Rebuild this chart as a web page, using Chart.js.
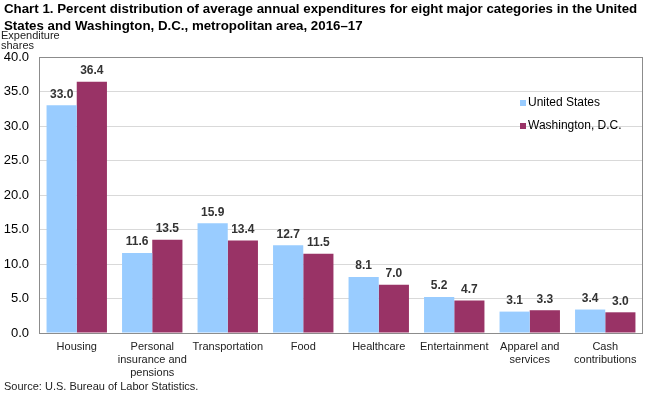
<!DOCTYPE html>
<html><head><meta charset="utf-8">
<script src="https://cdn.jsdelivr.net/npm/chart.js@4.4.0/dist/chart.umd.min.js"></script>
<style>html,body{margin:0;padding:0;background:#fff}#wrap{width:650px;height:393px;position:relative}</style>
</head><body><div id="wrap"><canvas id="c" width="650" height="393"></canvas></div>
<script>
const categories = [["Housing"],["Personal","insurance and","pensions"],["Transportation"],["Food"],["Healthcare"],["Entertainment"],["Apparel and","services"],["Cash","contributions"]];
const unitedStates = [33.0, 11.6, 15.9, 12.7, 8.1, 5.2, 3.1, 3.4];
const washingtonDC = [36.4, 13.5, 13.4, 11.5, 7.0, 4.7, 3.3, 3.0];
const seriesNames = ["United States", "Washington, D.C."];
const titleLines = ["Chart 1. Percent distribution of average annual expenditures for eight major categories in the United","States and Washington, D.C., metropolitan area, 2016\u201317"];
const yAxisTitle = ["Expenditure","shares"];
const sourceText = "Source: U.S. Bureau of Labor Statistics.";
const colors = ["#99CCFF", "#993366"];
const FONT = "'Liberation Sans', Arial, sans-serif";

const decor = {
  id: 'decor',
  afterDatasetsDraw(chart) {
    const ctx = chart.ctx, a = chart.chartArea;
    ctx.save();
    // border
    ctx.strokeStyle = '#8c8c8c'; ctx.lineWidth = 1;
    ctx.strokeRect(Math.round(a.left)+0.5, Math.round(a.top)+0.5, Math.round(a.right-a.left)-1, Math.round(a.bottom-a.top));
    // value labels
    ctx.font = 'bold 12px ' + FONT; ctx.fillStyle = '#333'; ctx.textAlign = 'center'; ctx.textBaseline = 'bottom';
    chart.data.datasets.forEach((ds, i) => {
      chart.getDatasetMeta(i).data.forEach((bar, j) => {
        ctx.fillText(ds.data[j].toFixed(1), bar.x, bar.y - 5);
      });
    });
    // title
    ctx.fillStyle = '#000'; ctx.textAlign = 'left'; ctx.textBaseline = 'middle';
    ctx.font = 'bold 13.3px ' + FONT;
    ctx.fillText(titleLines[0], 4, 9);
    ctx.fillText(titleLines[1], 4, 26);
    ctx.font = '11px ' + FONT; ctx.fillStyle = '#222';
    ctx.fillText(yAxisTitle[0], 1, 36);
    ctx.fillText(yAxisTitle[1], 1, 46);
    ctx.fillText(sourceText, 4, 387);
    // legend
    ctx.font = '12px ' + FONT;
    seriesNames.forEach((n, i) => {
      const y = 103 + i * 23;
      ctx.fillStyle = colors[i];
      ctx.fillRect(520, y - 3, 6, 6);
      ctx.fillStyle = '#000';
      ctx.fillText(n, 528, y);
    });
    ctx.restore();
  }
};

new Chart(document.getElementById('c'), {
  type: 'bar',
  data: {
    labels: categories,
    datasets: [
      { label: seriesNames[0], data: unitedStates, backgroundColor: colors[0], categoryPercentage: 0.8, barPercentage: 1.0 },
      { label: seriesNames[1], data: washingtonDC, backgroundColor: colors[1], categoryPercentage: 0.8, barPercentage: 1.0 }
    ]
  },
  options: {
    responsive: false, animation: false,
    layout: { padding: { top: 57, right: 7, bottom: 0, left: 0 } },
    plugins: { legend: { display: false }, title: { display: false }, tooltip: { enabled: false } },
    scales: {
      x: {
        grid: { display: false }, border: { display: false },
        ticks: { color: '#222', font: { size: 11, family: FONT, lineHeight: 1.2 }, padding: -1, maxRotation: 0, autoSkip: false },
        afterFit(s) { s.height = 60; }
      },
      y: {
        min: 0, max: 40,
        grid: { color: '#d9d9d9', drawTicks: false }, border: { display: false },
        ticks: { stepSize: 5, color: '#000', font: { size: 13, family: FONT }, padding: 10, callback: v => v.toFixed(1) },
        afterFit(s) { s.width = 39; }
      }
    }
  },
  plugins: [decor]
});
</script></body></html>
